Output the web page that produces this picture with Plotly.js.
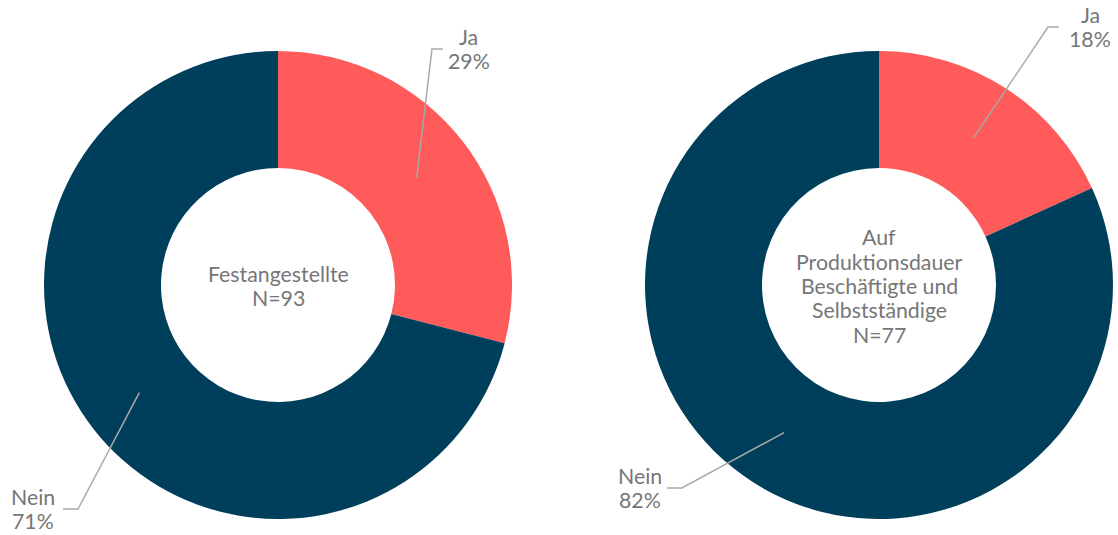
<!DOCTYPE html>
<html>
<head>
<meta charset="utf-8">
<script src="https://cdn.plot.ly/plotly-3.0.1.min.js"></script>
<style>html,body{margin:0;padding:0;background:#fff;}#chart{width:1118px;height:535px;}</style>
</head>
<body>
<div id="chart"></div>
<script>
// ---- data ----
const categories = ["Ja", "Nein"];
const festValues = [29.0, 71.0];
const prodValues = [18.2, 81.8];
const groupTitles = [
  ["Festangestellte", "N=93"],
  ["Auf", "Produktionsdauer", "Beschäftigte und", "Selbstständige", "N=77"]
];
const colors = ["#FF5B5B", "#003F5C"];

// ---- layout constants ----
const W = 1118, H = 535;
const pies = [
  {values: festValues, cx: 278, cy: 285, r: 234,
   labels: [{x: 469, y: 49, elbowX: 432, side: "right"}, {x: 33, y: 509, elbowX: 78, side: "left"}]},
  {values: prodValues, cx: 879, cy: 285, r: 234,
   labels: [{x: 1090, y: 27, elbowX: 1048, side: "right"}, {x: 640, y: 488, elbowX: 682, side: "left"}]}
];
const hole = 0.5;
const fontSize = 21.3;
const lineGap = 24.3;
const textColor = "#767676";
const lineColor = "#A9A9A9";
const fontFam = "Lato, 'Open Sans', sans-serif";

const px = x => x / W;
const py = y => 1 - y / H;

const data = pies.map((p, i) => ({
  type: "pie",
  values: p.values,
  labels: categories,
  marker: {colors: colors, line: {width: 0}},
  hole: hole,
  sort: false,
  direction: "clockwise",
  rotation: 0,
  textinfo: "none",
  hoverinfo: "label+percent",
  showlegend: false,
  domain: {x: [px(p.cx - p.r), px(p.cx + p.r)], y: [py(p.cy + p.r), py(p.cy - p.r)]}
}));

const shapes = [], annotations = [];
function addLines(lines, cx, cy) {
  const n = lines.length;
  lines.forEach((t, j) => {
    const y = cy + (j - (n - 1) / 2) * lineGap;
    annotations.push({
      xref: "paper", yref: "paper", x: px(cx), y: py(y),
      xanchor: "center", yanchor: "middle", align: "center",
      text: t, showarrow: false,
      font: {family: fontFam, size: fontSize, color: textColor}
    });
  });
}
pies.forEach((p, i) => {
  addLines(groupTitles[i], p.cx, p.cy + 1);
  const total = p.values.reduce((a, b) => a + b, 0);
  let cum = 0;
  p.values.forEach((v, k) => {
    const mid = (cum + v / 2) / total * 2 * Math.PI;
    cum += v;
    const rr = p.r * (1 + hole) / 2;
    const sx = p.cx + rr * Math.sin(mid), sy = p.cy - rr * Math.cos(mid);
    const L = p.labels[k];
    const endX = L.side === "right" ? L.elbowX + 11 : L.elbowX - 15;
    shapes.push({
      type: "path", xref: "paper", yref: "paper",
      path: `M ${px(sx)},${py(sy)} L ${px(L.elbowX)},${py(L.y)} L ${px(endX)},${py(L.y)}`,
      line: {color: lineColor, width: 1.5}
    });
    const pct = Math.round(v / total * 100);
    addLines([categories[k], pct + "%"], L.x, L.y);
  });
});

const layout = {
  width: W, height: H,
  margin: {l: 0, r: 0, t: 0, b: 0},
  paper_bgcolor: "#ffffff",
  font: {family: fontFam, color: textColor},
  shapes: shapes,
  annotations: annotations
};

Plotly.newPlot("chart", data, layout, {displayModeBar: false, staticPlot: true});
</script>
</body>
</html>
